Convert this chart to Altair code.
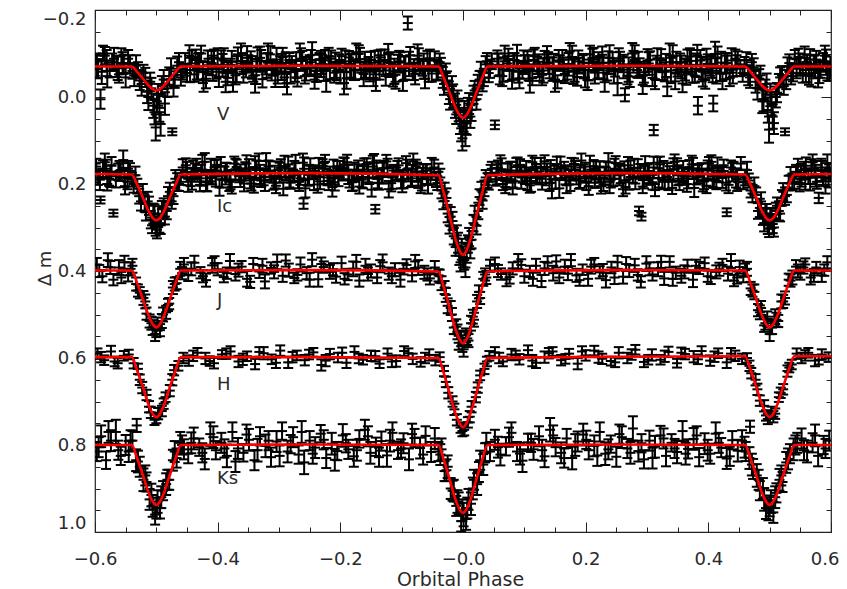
import altair as alt
import pandas as pd

# ---------------- data (phase, delta-mag, error) in thousandths ----------------
BANDS = ["V", "Ic", "J", "H", "Ks"]

V_PTS = [
    (-598, -82, 18), (-591, 5, 22), (-584, -95, 20), (-576, -60, 15), (-569, -88, 25), (-561, -52, 19), (-553, -76, 21),
    (-546, -88, 20), (-539, -60, 18), (-533, -72, 24), (-527, -38, 22), (-521, -55, 19), (-515, -12, 26), (-510, -35, 21),
    (-505, 20, 28), (-501, 70, 30), (-497, -5, 25), (-493, 62, 27), (-488, -40, 22), (-482, -20, 20), (-476, -65, 24),
    (-474, 80, 8), (-470, -40, 19), (-463, -80, 21), (-457, -58, 18),
    (-450, -55, 20), (-442, -92, 15), (-434, -65, 25), (-427, -100, 18), (-419, -42, 22), (-410, -78, 28), (-402, -58, 16),
    (-394, -88, 19), (-387, -35, 24), (-379, -74, 14), (-371, -50, 21), (-362, -96, 27), (-354, -62, 17), (-346, -82, 23),
    (-339, -30, 20), (-331, -90, 26), (-322, -67, 15), (-314, -98, 19), (-306, -52, 29), (-298, -76, 18), (-291, -45, 22),
    (-283, -85, 16), (-274, -60, 25), (-266, -103, 20), (-258, -48, 17), (-250, -72, 24), (-242, -40, 21), (-234, -87, 14),
    (-227, -64, 27), (-219, -94, 19), (-210, -56, 23), (-202, -80, 18), (-194, -32, 26), (-186, -91, 15), (-178, -61, 22),
    (-170, -99, 20), (-162, -53, 28), (-154, -75, 17), (-146, -44, 19), (-138, -83, 24), (-130, -68, 16), (-122, -101, 21),
    (-114, -49, 25), (-106, -79, 18), (-98, -37, 23), (-90, -170, 15), (-82, -59, 20), (-74, -95, 26), (-66, -66, 17),
    (-58, -84, 22), (-51, -54, 19),
    (-46, -85, 20), (-41, -60, 22), (-36, -72, 18), (-31, -30, 25), (-26, -38, 21), (-21, 5, 24), (-16, -2, 27), (-11, 40, 22),
    (-7, 30, 26), (-3, 72, 30), (1, 55, 25), (4, 85, 28), (8, 25, 23), (12, 45, 26), (17, -5, 21), (22, 5, 24), (27, -40, 20),
    (32, -35, 22), (37, -75, 19), (42, -55, 21), (47, -82, 18), (52, 64, 10),
    (56, -88, 19), (64, -48, 23), (72, -77, 17), (80, -40, 21), (88, -95, 25), (97, -60, 18), (105, -83, 22), (113, -43, 16),
    (121, -73, 20), (129, -51, 24), (137, -98, 19), (146, -64, 27), (154, -35, 15), (162, -86, 22), (170, -58, 18),
    (178, -92, 26), (186, -46, 20), (195, -79, 17), (203, -39, 23), (211, -90, 21), (219, -66, 25), (227, -97, 19),
    (235, -54, 16), (244, -81, 22), (252, -32, 28), (260, -75, 18), (264, -5, 15), (268, -49, 20), (276, -100, 24),
    (284, -62, 17), (293, -28, 21), (301, -84, 26), (309, -44, 19), (311, 76, 12), (317, -89, 23), (325, -57, 18),
    (333, -24, 22), (342, -94, 25), (350, -63, 16), (358, -31, 20), (366, -82, 27), (374, -52, 19), (382, -96, 24),
    (383, 20, 20), (391, -41, 17), (399, -76, 22), (407, -55, 21), (408, 15, 18), (415, -91, 25), (423, -37, 19),
    (431, -78, 23), (440, -47, 16), (448, -85, 20),
    (456, -55, 20), (462, -85, 18), (468, -45, 24), (474, -68, 21), (480, -20, 26), (485, -50, 22), (490, 5, 28),
    (495, -30, 24), (499, 75, 30), (503, 15, 27), (507, 60, 25), (512, -10, 22), (517, -45, 23), (523, -25, 20),
    (525, 80, 8), (529, -70, 21), (535, -48, 19), (541, -88, 20),
    (547, -92, 19), (554, -55, 22), (561, -80, 17), (568, -48, 24), (576, -86, 20), (583, -62, 18), (590, -95, 23), (597, -58, 21),
]

V_PTS_B = [
    (-595, -65, 22), (-587, -100, 18), (-580, -48, 26), (-572, -80, 20), (-565, -70, 24), (-557, -95, 17), (-550, -45, 23),
    (-543, -75, 21), (-536, -50, 25), (-530, -62, 18), (-524, -30, 27), (-518, -45, 22), (-513, 0, 30), (-508, -20, 24),
    (-503, 35, 28), (-499, 10, 26), (-495, 25, 32), (-491, -25, 23), (-486, 15, 26), (-479, -48, 20), (-472, -25, 24),
    (-466, -72, 21), (-460, -45, 19),
    (-446, -95, 24), (-438, -52, 17), (-430, -80, 21), (-423, -38, 26), (-415, -73, 15), (-406, -90, 19), (-398, -46, 23),
    (-390, -84, 28), (-383, -62, 18), (-375, -34, 22), (-367, -98, 16), (-358, -58, 25), (-350, -76, 20), (-342, -49, 14),
    (-335, -87, 27), (-327, -41, 19), (-318, -101, 22), (-310, -66, 17), (-302, -55, 24), (-294, -92, 21), (-287, -32, 26),
    (-279, -79, 15), (-270, -44, 20), (-262, -83, 23), (-254, -69, 18), (-246, -97, 29), (-238, -51, 16), (-230, -75, 22),
    (-223, -37, 25), (-215, -88, 19), (-206, -60, 21), (-198, -94, 17), (-190, -43, 24), (-182, -72, 28), (-174, -103, 20),
    (-166, -56, 15), (-158, -64, 23), (-150, -85, 19), (-142, -40, 26), (-134, -91, 18), (-126, -48, 22), (-118, -78, 25),
    (-110, -35, 16), (-102, -82, 21), (-94, -67, 27), (-86, -96, 19), (-78, -53, 24), (-70, -71, 17), (-62, -42, 22),
    (-54, -89, 20),
    (-43, -62, 22), (-38, -80, 20), (-33, -45, 24), (-28, -55, 22), (-23, -10, 26), (-18, -25, 23), (-13, 20, 28), (-9, 10, 25),
    (-5, 55, 30), (-1, 95, 28), (2, 35, 26), (6, 60, 27), (10, 15, 24), (14, 30, 25), (19, -15, 22), (24, -28, 23),
    (29, -60, 21), (34, -45, 20), (39, -82, 19), (44, -65, 21),
    (60, -50, 21), (68, -100, 18), (76, -62, 25), (84, -85, 16), (92, -43, 23), (101, -76, 20), (109, -37, 27), (117, -94, 19),
    (125, -59, 22), (133, -89, 17), (141, -67, 24), (150, -40, 28), (158, -81, 15), (166, -53, 21), (174, -105, 19),
    (182, -61, 26), (190, -72, 18), (199, -45, 23), (207, -98, 20), (215, -56, 25), (223, -78, 16), (231, -34, 22),
    (239, -90, 29), (248, -65, 18), (256, -83, 21), (272, -47, 24), (280, -102, 17), (288, -69, 20), (297, -51, 26),
    (305, -86, 19), (313, -41, 23), (321, -74, 15), (329, -58, 22), (337, -96, 27), (346, -36, 18), (354, -79, 21),
    (362, -63, 25), (370, -93, 19), (378, -49, 16), (387, -84, 24), (395, -39, 20), (403, -71, 22), (411, -99, 28),
    (419, -54, 17), (427, -77, 23), (435, -44, 19), (444, -88, 21), (452, -66, 18),
    (459, -72, 20), (465, -50, 23), (471, -80, 19), (477, -35, 25), (483, -42, 22), (488, 10, 27), (493, -15, 25),
    (497, 30, 29), (501, -5, 26), (505, 45, 28), (510, 0, 24), (515, -30, 23), (520, -50, 21), (527, -40, 22),
    (532, -78, 20), (538, -55, 19), (544, -65, 22),
    (550, -70, 21), (557, -98, 18), (564, -52, 24), (572, -75, 20), (579, -45, 23), (587, -82, 19), (594, -60, 22),
]

V_PTS_C = [
    (-597, -70, 25), (-589, -58, 28), (-581, -84, 24), (-563, -66, 27), (-555, -78, 25),
    (-453, -75, 26), (-445, -62, 28), (-436, -85, 24), (-432, -70, 30), (-424, -57, 25), (-416, -80, 27), (-408, -66, 29),
    (-400, -88, 24), (-392, -73, 26), (-384, -55, 28), (-377, -81, 25), (-369, -64, 30), (-360, -77, 24), (-352, -90, 27),
    (-344, -68, 26), (-337, -59, 29), (-329, -83, 25), (-320, -72, 28), (-312, -62, 24), (-304, -86, 27), (-296, -69, 30),
    (-289, -78, 25), (-281, -57, 26), (-272, -74, 29), (-264, -88, 24), (-256, -65, 27), (-248, -80, 28), (-240, -60, 25),
    (-232, -76, 30), (-225, -84, 24), (-217, -67, 26), (-208, -73, 29), (-200, -58, 27), (-192, -82, 25), (-184, -70, 28),
    (-176, -63, 24), (-168, -87, 26), (-160, -74, 30), (-152, -61, 25), (-144, -79, 27), (-136, -68, 28), (-128, -85, 24),
    (-120, -72, 26), (-112, -59, 29), (-104, -81, 25), (-96, -66, 27), (-88, -76, 28), (-80, -63, 24), (-72, -86, 26),
    (-64, -71, 29), (-56, -60, 25),
    (58, -74, 26), (66, -63, 28), (74, -87, 24), (82, -70, 30), (90, -58, 25), (99, -80, 27), (107, -67, 29), (115, -85, 24),
    (123, -72, 26), (131, -61, 28), (139, -78, 25), (148, -69, 30), (156, -84, 24), (164, -64, 27), (172, -75, 26),
    (180, -59, 29), (188, -82, 25), (197, -71, 28), (205, -62, 24), (213, -86, 27), (221, -73, 30), (229, -66, 25),
    (237, -79, 26), (246, -60, 29), (254, -88, 24), (262, -70, 27), (270, -63, 28), (278, -81, 25), (286, -74, 30),
    (295, -57, 24), (303, -77, 26), (315, -67, 28), (323, -85, 25), (331, -72, 27), (339, -61, 29), (348, -80, 24),
    (356, -69, 26), (364, -58, 30), (372, -83, 25), (380, -73, 27), (389, -64, 28), (397, -87, 24), (405, -70, 26),
    (413, -60, 29), (421, -79, 25), (429, -68, 27), (438, -84, 28), (446, -72, 24),
    (549, -75, 25), (559, -62, 28), (566, -86, 24), (574, -70, 27), (581, -58, 26), (592, -80, 29), (599, -68, 25),
]

IC_PTS = [
    (-598, 160, 18), (-591, 237, 8), (-584, 150, 20), (-577, 188, 16), (-570, 267, 8), (-562, 172, 19), (-554, 145, 22), (-547, 195, 17),
    (-546, 165, 18), (-540, 190, 16), (-534, 180, 20), (-528, 228, 17), (-522, 222, 22), (-517, 265, 19), (-512, 250, 21),
    (-507, 295, 18), (-503, 270, 23), (-499, 305, 20), (-495, 290, 22), (-491, 258, 19), (-486, 275, 18), (-481, 228, 21),
    (-475, 240, 17), (-469, 188, 20), (-463, 200, 16), (-457, 162, 19),
    (-452, 157, 16), (-444, 191, 14), (-437, 171, 18), (-429, 202, 15), (-421, 149, 20), (-413, 186, 13), (-405, 162, 17),
    (-397, 208, 19), (-389, 175, 15), (-381, 195, 21), (-373, 153, 16), (-365, 182, 14), (-357, 199, 18), (-349, 165, 22),
    (-341, 205, 15), (-333, 147, 17), (-325, 184, 19), (-317, 160, 14), (-309, 197, 16), (-301, 168, 20), (-293, 211, 15),
    (-285, 155, 18), (-277, 180, 13), (-269, 193, 17), (-261, 151, 21), (-260, 245, 12), (-253, 188, 16), (-245, 173, 14),
    (-237, 201, 19), (-229, 158, 15), (-221, 185, 18), (-213, 207, 22), (-205, 163, 16), (-197, 178, 14), (-189, 150, 17),
    (-181, 196, 20), (-173, 170, 15), (-165, 190, 18), (-157, 154, 13), (-149, 213, 16), (-143, 258, 10), (-141, 167, 21),
    (-133, 181, 17), (-125, 148, 15), (-117, 198, 19), (-109, 176, 14), (-101, 192, 18), (-93, 152, 16), (-85, 187, 20),
    (-77, 159, 15), (-69, 204, 17), (-61, 169, 14), (-53, 183, 19),
    (-47, 162, 18), (-42, 198, 16), (-37, 185, 20), (-32, 240, 18), (-27, 232, 22), (-22, 295, 19), (-17, 285, 21),
    (-12, 345, 20), (-8, 335, 23), (-4, 380, 21), (0, 368, 24), (4, 392, 22), (8, 338, 20), (12, 350, 21), (17, 290, 19),
    (22, 296, 20), (27, 230, 18), (32, 238, 19), (37, 185, 17), (42, 195, 18), (47, 165, 16),
    (53, 189, 15), (61, 152, 18), (69, 207, 14), (77, 169, 20), (85, 194, 16), (93, 156, 13), (101, 181, 19), (109, 203, 17),
    (117, 161, 21), (125, 186, 15), (133, 148, 14), (141, 198, 18), (149, 174, 16), (157, 210, 22), (165, 164, 15),
    (173, 184, 17), (181, 154, 13), (189, 192, 19), (197, 171, 16), (205, 205, 20), (213, 159, 14), (221, 179, 18),
    (229, 201, 15), (237, 150, 21), (245, 188, 17), (253, 167, 13), (261, 212, 16), (269, 157, 19), (277, 183, 14),
    (285, 163, 20), (287, 262, 10), (291, 275, 9), (293, 206, 15), (301, 173, 18), (309, 196, 17), (317, 151, 13),
    (325, 190, 21), (333, 168, 16), (341, 209, 14), (349, 160, 19), (357, 178, 15), (365, 200, 18), (373, 155, 20),
    (381, 185, 16), (389, 165, 13), (397, 204, 17), (405, 149, 15), (413, 193, 19), (421, 172, 14), (429, 197, 18),
    (430, 265, 9), (437, 162, 16), (445, 187, 21), (453, 153, 15),
    (457, 195, 17), (463, 168, 19), (469, 215, 16), (475, 205, 20), (481, 262, 18), (486, 240, 21), (491, 290, 19),
    (495, 268, 22), (499, 302, 20), (503, 278, 23), (507, 300, 21), (512, 250, 19), (517, 268, 18), (522, 218, 20),
    (528, 225, 17), (534, 180, 19), (540, 195, 16), (546, 160, 18),
    (552, 190, 16), (559, 158, 19), (566, 200, 15), (573, 165, 18), (580, 232, 12), (587, 185, 17), (594, 152, 20), (599, 178, 16),
]

IC_PTS_B = [
    (-595, 185, 17), (-587, 165, 19), (-580, 200, 15), (-573, 158, 20), (-566, 190, 18), (-558, 168, 16), (-551, 205, 19),
    (-543, 170, 18), (-537, 200, 20), (-531, 205, 17), (-525, 240, 21), (-519, 245, 19), (-514, 240, 22), (-509, 282, 20),
    (-505, 268, 23), (-501, 298, 21), (-497, 275, 24), (-493, 295, 20), (-488, 255, 22), (-483, 262, 19), (-478, 218, 21),
    (-472, 228, 18), (-466, 195, 20), (-460, 185, 17),
    (-448, 203, 15), (-440, 165, 19), (-433, 181, 14), (-425, 150, 17), (-417, 196, 21), (-409, 185, 16), (-401, 156, 13),
    (-393, 190, 18), (-385, 172, 20), (-377, 207, 15), (-369, 161, 17), (-361, 178, 14), (-353, 153, 19), (-345, 199, 16),
    (-337, 168, 22), (-329, 192, 15), (-321, 147, 18), (-313, 183, 13), (-305, 204, 17), (-297, 163, 20), (-289, 175, 16),
    (-281, 197, 14), (-273, 152, 19), (-265, 187, 15), (-257, 210, 21), (-249, 158, 17), (-241, 170, 13), (-233, 194, 18),
    (-225, 149, 16), (-217, 180, 20), (-209, 201, 14), (-201, 166, 19), (-193, 155, 15), (-185, 191, 17), (-177, 173, 22),
    (-169, 206, 16), (-161, 159, 18), (-153, 186, 14), (-145, 151, 20), (-137, 198, 15), (-129, 164, 17), (-121, 212, 19),
    (-113, 169, 13), (-105, 157, 16), (-97, 189, 21), (-89, 179, 15), (-81, 148, 18), (-73, 195, 14), (-65, 171, 17),
    (-57, 202, 20),
    (-44, 190, 17), (-40, 172, 19), (-35, 215, 18), (-30, 218, 21), (-25, 268, 20), (-20, 275, 22), (-15, 320, 19),
    (-10, 318, 23), (-6, 365, 21), (-2, 350, 24), (2, 375, 22), (6, 358, 23), (10, 322, 21), (14, 328, 20), (19, 272, 22),
    (25, 262, 19), (30, 215, 20), (35, 210, 18), (40, 192, 17), (45, 175, 19),
    (57, 163, 17), (65, 200, 14), (73, 173, 20), (81, 208, 16), (89, 157, 18), (97, 184, 13), (105, 193, 21), (113, 150, 15),
    (121, 179, 19), (129, 197, 16), (137, 167, 14), (145, 211, 22), (153, 154, 17), (161, 176, 15), (169, 203, 18),
    (177, 160, 20), (185, 188, 13), (193, 146, 16), (201, 195, 19), (209, 182, 15), (217, 169, 21), (225, 205, 17),
    (233, 162, 14), (241, 190, 18), (249, 152, 16), (257, 178, 20), (265, 207, 15), (273, 165, 19), (281, 199, 13),
    (289, 171, 17), (297, 158, 22), (305, 186, 16), (313, 214, 14), (321, 155, 18), (329, 192, 20), (337, 174, 15),
    (345, 149, 17), (353, 201, 13), (361, 183, 19), (369, 161, 16), (377, 209, 21), (385, 168, 14), (393, 194, 18),
    (401, 153, 15), (409, 189, 20), (417, 180, 16), (425, 157, 13), (433, 202, 19), (441, 166, 17), (449, 196, 15),
    (460, 185, 18), (466, 192, 16), (472, 222, 20), (478, 225, 17), (484, 255, 21), (489, 275, 19), (493, 268, 22),
    (497, 295, 20), (501, 280, 23), (505, 292, 21), (510, 262, 19), (515, 262, 22), (520, 232, 18), (525, 228, 20),
    (531, 198, 17), (537, 195, 19), (543, 172, 16),
    (549, 200, 17), (556, 168, 19), (563, 185, 15), (570, 150, 18), (577, 195, 16), (584, 162, 20), (591, 205, 17), (597, 170, 15),
]

IC_PTS_C = [
    (-599, 175, 22), (-592, 190, 24), (-582, 165, 21), (-575, 182, 25), (-560, 170, 23), (-552, 185, 22),
    (-450, 172, 23), (-442, 188, 25), (-435, 163, 21), (-427, 180, 24), (-419, 194, 22), (-411, 168, 26), (-403, 183, 23),
    (-395, 159, 21), (-387, 176, 25), (-379, 190, 22), (-371, 166, 24), (-363, 181, 26), (-355, 171, 21), (-347, 187, 23),
    (-339, 161, 25), (-331, 178, 22), (-323, 192, 24), (-315, 169, 21), (-307, 184, 26), (-299, 174, 23), (-291, 160, 25),
    (-283, 186, 22), (-275, 171, 24), (-267, 195, 21), (-259, 165, 26), (-251, 179, 23), (-243, 189, 25), (-235, 162, 22),
    (-227, 176, 24), (-219, 193, 21), (-211, 170, 26), (-203, 182, 23), (-195, 164, 25), (-187, 178, 22), (-179, 191, 24),
    (-171, 167, 21), (-163, 184, 26), (-155, 173, 23), (-147, 160, 25), (-139, 188, 22), (-131, 175, 24), (-123, 163, 21),
    (-115, 185, 26), (-107, 170, 23), (-99, 194, 25), (-91, 166, 22), (-83, 180, 24), (-75, 172, 21), (-67, 189, 26),
    (-59, 177, 23), (-51, 165, 25),
    (55, 178, 23), (63, 166, 25), (71, 190, 22), (79, 173, 24), (87, 161, 21), (95, 185, 26), (103, 170, 23), (111, 193, 25),
    (119, 176, 22), (127, 164, 24), (135, 182, 21), (143, 171, 26), (151, 188, 23), (159, 162, 25), (167, 179, 22),
    (175, 192, 24), (183, 168, 21), (191, 183, 26), (199, 174, 23), (207, 160, 25), (215, 187, 22), (223, 172, 24),
    (231, 181, 21), (239, 195, 26), (247, 165, 23), (255, 178, 25), (263, 170, 22), (271, 189, 24), (279, 163, 21),
    (295, 184, 26), (303, 175, 23), (311, 162, 25), (319, 186, 22), (327, 171, 24), (335, 193, 21), (343, 167, 26),
    (351, 180, 23), (359, 172, 25), (367, 188, 22), (375, 164, 24), (383, 177, 21), (391, 191, 26), (399, 169, 23),
    (407, 182, 25), (415, 161, 22), (423, 185, 24), (439, 173, 21), (447, 190, 26),
    (551, 176, 22), (558, 189, 24), (568, 164, 21), (575, 181, 25), (585, 170, 23), (596, 186, 22),
]

J_PTS = [
    (-597, 385, 15), (-588, 412, 14), (-579, 375, 16), (-570, 420, 13), (-561, 392, 17), (-552, 380, 15),
    (-546, 410, 14), (-539, 388, 16), (-533, 430, 15), (-527, 450, 13), (-521, 462, 16), (-516, 498, 14), (-511, 515, 15),
    (-506, 530, 17), (-502, 545, 16), (-498, 522, 15), (-494, 536, 14), (-489, 500, 16), (-484, 495, 15), (-479, 475, 13),
    (-473, 438, 15), (-467, 428, 14), (-461, 395, 16), (-455, 385, 15),
    (-448, 409, 14), (-438, 381, 16), (-428, 404, 13), (-419, 421, 15), (-409, 387, 17), (-400, 396, 14), (-390, 414, 12),
    (-380, 377, 16), (-371, 407, 15), (-361, 390, 13), (-352, 418, 18), (-342, 384, 14), (-332, 401, 15), (-323, 424, 16),
    (-313, 393, 13), (-303, 379, 17), (-294, 411, 14), (-284, 398, 15), (-275, 416, 12), (-265, 385, 16), (-255, 405, 14),
    (-246, 374, 15), (-236, 419, 17), (-227, 391, 13), (-217, 402, 16), (-207, 413, 14), (-198, 382, 15), (-188, 408, 13),
    (-179, 395, 17), (-169, 422, 14), (-159, 388, 16), (-150, 400, 15), (-140, 415, 13), (-131, 380, 18), (-121, 406, 14),
    (-111, 397, 15), (-102, 420, 16), (-92, 386, 13), (-83, 410, 14), (-73, 392, 17), (-63, 403, 15), (-54, 417, 14),
    (-46, 392, 15), (-40, 410, 14), (-35, 428, 16), (-30, 438, 15), (-25, 480, 17), (-20, 485, 16), (-15, 530, 15),
    (-11, 528, 17), (-7, 565, 16), (-3, 555, 18), (1, 580, 17), (5, 548, 16), (9, 560, 15), (13, 520, 17), (18, 512, 16),
    (23, 470, 15), (28, 462, 14), (33, 418, 16), (38, 415, 15), (44, 388, 14),
    (52, 384, 15), (62, 407, 13), (71, 419, 16), (81, 394, 14), (90, 378, 17), (100, 412, 15), (109, 401, 13), (119, 388, 16),
    (128, 423, 14), (138, 381, 15), (147, 405, 17), (157, 415, 13), (166, 390, 16), (176, 375, 14), (185, 410, 15),
    (195, 397, 12), (204, 418, 16), (214, 385, 15), (223, 403, 14), (233, 421, 17), (242, 392, 13), (252, 380, 15),
    (261, 413, 16), (271, 400, 14), (280, 387, 15), (290, 425, 13), (299, 383, 17), (309, 408, 14), (318, 396, 16),
    (328, 417, 15), (337, 379, 13), (347, 404, 14), (356, 411, 16), (366, 389, 15), (375, 420, 17), (385, 393, 14),
    (394, 382, 13), (404, 414, 16), (413, 402, 15), (423, 386, 14), (432, 406, 16), (442, 422, 13), (451, 391, 15),
    (457, 412, 14), (463, 395, 16), (469, 440, 15), (475, 448, 17), (481, 490, 14), (486, 485, 16), (491, 525, 15),
    (496, 510, 17), (500, 545, 16), (504, 530, 15), (509, 505, 17), (514, 515, 14), (519, 470, 16), (525, 462, 15),
    (531, 420, 14), (537, 415, 16), (543, 390, 15),
    (550, 405, 15), (558, 385, 14), (567, 415, 16), (576, 392, 13), (585, 410, 15), (594, 380, 14),
]

J_PTS_B = [
    (-593, 400, 14), (-575, 392, 15), (-557, 415, 13),
    (-542, 395, 15), (-530, 445, 14), (-518, 470, 16), (-508, 520, 15), (-500, 535, 17), (-491, 515, 16), (-481, 478, 14),
    (-470, 430, 15), (-458, 405, 14),
    (-443, 395, 15), (-424, 412, 14), (-405, 382, 16), (-385, 405, 13), (-366, 398, 15), (-347, 425, 14), (-327, 388, 16),
    (-308, 402, 15), (-289, 376, 14), (-270, 409, 13), (-250, 420, 16), (-231, 384, 15), (-212, 396, 14), (-193, 418, 13),
    (-174, 379, 16), (-155, 407, 15), (-135, 389, 14), (-116, 412, 16), (-97, 395, 13), (-78, 378, 15), (-58, 408, 14),
    (-38, 412, 15), (-28, 455, 16), (-18, 500, 15), (-9, 540, 17), (-1, 570, 16), (7, 555, 15), (16, 505, 16), (26, 448, 15),
    (36, 408, 14),
    (57, 400, 14), (76, 414, 15), (95, 386, 13), (114, 418, 16), (133, 394, 15), (152, 378, 14), (171, 406, 15), (190, 421, 13),
    (209, 390, 16), (228, 398, 14), (247, 415, 15), (266, 384, 16), (285, 409, 13), (304, 395, 15), (323, 379, 14),
    (342, 418, 16), (361, 402, 15), (380, 388, 14), (399, 412, 13), (418, 396, 15), (437, 377, 16), (447, 415, 14),
    (460, 398, 15), (472, 445, 14), (484, 495, 16), (493, 520, 15), (502, 528, 17), (511, 512, 16), (522, 470, 15),
    (534, 422, 14), (546, 400, 15),
    (555, 392, 14), (572, 410, 15), (589, 398, 13),
]

H_PTS = [
    (-596, 590, 12), (-585, 605, 11), (-574, 585, 13), (-563, 612, 12), (-553, 595, 11),
    (-545, 592, 11), (-537, 612, 12), (-530, 625, 12), (-523, 668, 13), (-516, 685, 12), (-509, 725, 13), (-503, 742, 12),
    (-497, 728, 13), (-491, 722, 12), (-485, 690, 11), (-478, 675, 13), (-471, 628, 12), (-464, 618, 11), (-456, 600, 12),
    (-447, 606, 12), (-433, 588, 11), (-420, 601, 13), (-406, 612, 12), (-393, 592, 10), (-379, 585, 12), (-366, 608, 13),
    (-352, 596, 11), (-339, 614, 12), (-325, 589, 14), (-312, 603, 11), (-298, 583, 12), (-285, 610, 13), (-271, 594, 11),
    (-258, 605, 12), (-244, 587, 10), (-231, 616, 13), (-217, 591, 12), (-204, 599, 11), (-190, 611, 12), (-177, 586, 13),
    (-163, 604, 11), (-150, 595, 12), (-136, 613, 10), (-123, 590, 12), (-109, 607, 13), (-96, 584, 11), (-82, 602, 12),
    (-69, 609, 11), (-55, 593, 13),
    (-45, 605, 12), (-38, 598, 11), (-31, 630, 12), (-24, 680, 13), (-17, 700, 12), (-10, 742, 13), (-4, 760, 12),
    (2, 765, 13), (8, 748, 12), (14, 712, 13), (21, 690, 12), (28, 640, 11), (35, 625, 12), (43, 595, 11),
    (52, 587, 12), (65, 608, 11), (79, 592, 13), (92, 603, 12), (106, 582, 11), (119, 611, 12), (133, 598, 13), (146, 585, 10),
    (160, 605, 12), (173, 590, 11), (187, 613, 13), (200, 594, 12), (214, 583, 11), (227, 602, 12), (241, 607, 10),
    (254, 588, 13), (268, 600, 12), (281, 581, 11), (295, 609, 12), (308, 593, 13), (322, 604, 11), (335, 586, 12),
    (349, 612, 10), (362, 591, 12), (376, 597, 13), (389, 584, 11), (403, 606, 12), (416, 589, 11), (430, 610, 13), (444, 595, 12),
    (455, 602, 12), (463, 600, 11), (470, 635, 12), (477, 650, 13), (484, 698, 12), (491, 710, 13), (497, 740, 12),
    (503, 725, 13), (509, 728, 12), (515, 690, 11), (522, 672, 12), (529, 630, 13), (536, 615, 11), (544, 590, 12),
    (552, 600, 12), (563, 588, 11), (574, 606, 13), (585, 592, 12), (596, 598, 11),
]

H_PTS_B = [
    (-590, 598, 12), (-568, 608, 11), (-527, 650, 12), (-512, 712, 13), (-500, 738, 12), (-488, 705, 12), (-474, 650, 13),
    (-440, 595, 12), (-413, 607, 11), (-386, 590, 12), (-359, 603, 13), (-332, 586, 11), (-305, 611, 12), (-278, 598, 12),
    (-251, 592, 11), (-224, 606, 13), (-197, 588, 12), (-170, 601, 11), (-143, 596, 12), (-116, 608, 13), (-89, 589, 11),
    (-62, 600, 12), (-28, 655, 12), (-14, 718, 13), (-1, 768, 12), (11, 735, 13), (24, 668, 12), (39, 608, 11),
    (59, 600, 12), (86, 594, 11), (113, 606, 13), (140, 589, 12), (167, 602, 11), (194, 585, 12), (221, 598, 13),
    (248, 610, 11), (275, 592, 12), (302, 604, 11), (329, 596, 13), (356, 588, 12), (383, 603, 11), (410, 597, 12),
    (437, 590, 13), (467, 618, 12), (480, 672, 13), (494, 732, 12), (506, 735, 13), (518, 680, 12), (532, 622, 11),
    (558, 594, 12), (580, 604, 11),
]

KS_PTS = [
    (-597, 815, 22), (-590, 780, 25), (-582, 835, 20), (-574, 790, 24), (-566, 770, 28), (-558, 825, 21), (-550, 800, 23),
    (-545, 815, 24), (-539, 790, 22), (-533, 835, 25), (-532, 755, 15), (-527, 850, 23), (-521, 880, 26), (-516, 885, 22),
    (-511, 925, 24), (-506, 940, 25), (-502, 960, 23), (-498, 930, 26), (-494, 945, 24), (-489, 905, 22), (-484, 890, 25),
    (-479, 880, 23), (-473, 835, 24), (-467, 830, 22), (-461, 795, 25), (-455, 810, 23),
    (-448, 820, 22), (-439, 785, 25), (-430, 805, 20), (-421, 832, 24), (-412, 775, 27), (-403, 812, 21), (-394, 795, 23),
    (-385, 825, 26), (-376, 770, 22), (-367, 808, 24), (-358, 818, 20), (-349, 788, 25), (-340, 835, 23), (-331, 780, 21),
    (-322, 802, 26), (-313, 828, 22), (-304, 792, 24), (-295, 768, 20), (-286, 815, 25), (-277, 782, 23), (-268, 822, 21),
    (-259, 840, 27), (-250, 790, 22), (-241, 806, 24), (-232, 774, 20), (-223, 830, 23), (-214, 797, 25), (-205, 814, 21),
    (-196, 778, 26), (-187, 810, 22), (-178, 826, 24), (-169, 786, 20), (-160, 765, 23), (-151, 818, 25), (-142, 804, 21),
    (-133, 791, 22), (-124, 824, 26), (-115, 772, 24), (-106, 812, 20), (-97, 796, 23), (-88, 833, 25), (-79, 784, 21),
    (-70, 807, 24), (-61, 779, 22), (-52, 816, 23),
    (-46, 785, 24), (-40, 815, 22), (-35, 810, 25), (-30, 860, 23), (-25, 850, 26), (-20, 900, 24), (-15, 905, 25),
    (-11, 940, 23), (-7, 935, 26), (-3, 975, 24), (1, 960, 27), (5, 970, 25), (9, 925, 24), (13, 935, 26), (18, 880, 23),
    (23, 890, 25), (28, 835, 22), (33, 845, 24), (38, 795, 23), (44, 815, 22),
    (52, 788, 23), (61, 822, 25), (70, 803, 21), (79, 772, 24), (88, 815, 22), (97, 836, 26), (106, 794, 20), (115, 810, 24),
    (124, 780, 23), (133, 826, 25), (142, 765, 27), (151, 805, 21), (160, 818, 24), (169, 785, 22), (178, 830, 26),
    (187, 792, 23), (196, 776, 25), (205, 812, 21), (214, 802, 24), (223, 770, 22), (232, 820, 26), (241, 798, 20),
    (250, 827, 23), (259, 782, 25), (268, 808, 22), (277, 762, 28), (286, 814, 24), (295, 833, 21), (304, 790, 23),
    (313, 804, 25), (322, 778, 22), (331, 825, 24), (340, 795, 20), (349, 816, 26), (358, 768, 23), (367, 809, 22),
    (376, 786, 25), (385, 828, 21), (394, 797, 24), (403, 820, 23), (412, 774, 26), (421, 806, 22), (430, 831, 24),
    (439, 789, 21), (448, 813, 25),
    (455, 790, 24), (461, 815, 22), (467, 830, 25), (468, 758, 14), (473, 855, 23), (479, 870, 26), (484, 905, 22),
    (489, 900, 24), (494, 945, 25), (498, 950, 23), (502, 930, 26), (506, 955, 24), (511, 910, 22), (516, 880, 25),
    (521, 885, 23), (527, 840, 24), (533, 820, 22), (539, 810, 25), (545, 795, 23),
    (552, 785, 23), (561, 815, 25), (570, 795, 22), (579, 825, 24), (588, 800, 21), (597, 790, 23),
]

KS_PTS_B = [
    (-594, 805, 23), (-578, 770, 25), (-562, 812, 22),
    (-542, 790, 24), (-530, 838, 25), (-518, 870, 23), (-508, 915, 26), (-500, 945, 24), (-492, 920, 25), (-482, 880, 23),
    (-470, 815, 24), (-458, 800, 22),
    (-443, 795, 24), (-425, 818, 22), (-407, 782, 25), (-389, 808, 21), (-371, 838, 24), (-353, 776, 23), (-335, 812, 26),
    (-317, 790, 22), (-299, 825, 24), (-281, 798, 21), (-263, 770, 25), (-245, 820, 23), (-227, 788, 22), (-209, 834, 25),
    (-191, 796, 21), (-173, 812, 24), (-155, 780, 23), (-137, 828, 22), (-119, 790, 25), (-101, 808, 21), (-83, 775, 24),
    (-65, 822, 23),
    (-37, 822, 24), (-27, 858, 25), (-17, 905, 23), (-9, 930, 26), (-1, 950, 25), (7, 945, 24), (16, 900, 25), (26, 862, 23),
    (36, 818, 22),
    (57, 805, 24), (75, 782, 22), (93, 820, 25), (111, 795, 21), (129, 812, 24), (147, 778, 23), (165, 830, 22), (183, 800, 25),
    (201, 788, 21), (219, 824, 24), (237, 810, 23), (255, 775, 22), (273, 818, 25), (291, 796, 21), (309, 830, 24),
    (327, 785, 23), (345, 808, 22), (363, 820, 25), (381, 778, 21), (399, 812, 24), (417, 795, 23), (435, 826, 22),
    (459, 805, 24), (471, 845, 25), (482, 880, 23), (491, 925, 26), (500, 940, 24), (509, 920, 25), (519, 870, 23),
    (530, 832, 24), (542, 800, 22),
    (556, 812, 23), (574, 778, 25), (591, 808, 22),
]

# ---------------- model light curves (red) ----------------
MODEL_PHASE = [-0.6, -0.54, -0.532, -0.522, -0.513, -0.506, -0.5, -0.494, -0.487, -0.478, -0.468, -0.46,
               -0.25, -0.04, -0.032, -0.022, -0.013, -0.006, 0.0, 0.006, 0.013, 0.022, 0.032, 0.04,
               0.25, 0.46, 0.468, 0.478, 0.487, 0.494, 0.5, 0.506, 0.513, 0.522, 0.532, 0.54, 0.6]
V_MODEL = [-0.070, -0.070, -0.059, -0.042, -0.027, -0.018, -0.015, -0.018, -0.027, -0.042, -0.059, -0.070,
           -0.072, -0.070, -0.046, -0.011, 0.022, 0.041, 0.048, 0.041, 0.022, -0.011, -0.046, -0.070,
           -0.072, -0.070, -0.059, -0.042, -0.027, -0.018, -0.015, -0.018, -0.027, -0.042, -0.059, -0.070, -0.070]
IC_MODEL = [0.177, 0.178, 0.199, 0.231, 0.261, 0.278, 0.284, 0.278, 0.261, 0.231, 0.199, 0.178,
            0.175, 0.180, 0.217, 0.272, 0.323, 0.352, 0.363, 0.352, 0.323, 0.272, 0.217, 0.180,
            0.175, 0.178, 0.199, 0.231, 0.261, 0.278, 0.284, 0.278, 0.261, 0.231, 0.199, 0.178, 0.177]
J_MODEL = [0.399, 0.399, 0.425, 0.465, 0.501, 0.522, 0.530, 0.522, 0.501, 0.465, 0.425, 0.399,
           0.398, 0.401, 0.434, 0.484, 0.530, 0.556, 0.566, 0.556, 0.530, 0.484, 0.434, 0.401,
           0.398, 0.399, 0.425, 0.465, 0.501, 0.522, 0.530, 0.522, 0.501, 0.465, 0.425, 0.399, 0.399]
H_MODEL = [0.598, 0.598, 0.626, 0.667, 0.706, 0.728, 0.736, 0.728, 0.706, 0.667, 0.626, 0.598,
           0.598, 0.600, 0.632, 0.680, 0.724, 0.749, 0.759, 0.749, 0.724, 0.680, 0.632, 0.600,
           0.597, 0.596, 0.624, 0.666, 0.705, 0.728, 0.736, 0.728, 0.705, 0.666, 0.624, 0.596, 0.596]
KS_MODEL = [0.800, 0.800, 0.828, 0.869, 0.908, 0.930, 0.938, 0.930, 0.908, 0.869, 0.828, 0.800,
            0.799, 0.800, 0.831, 0.878, 0.922, 0.947, 0.956, 0.947, 0.922, 0.878, 0.831, 0.800,
            0.799, 0.800, 0.828, 0.869, 0.908, 0.930, 0.938, 0.930, 0.908, 0.869, 0.828, 0.800, 0.800]

LABEL_PHASE = [-0.401, -0.401, -0.401, -0.401, -0.401]
LABEL_MAG = [0.041, 0.252, 0.469, 0.662, 0.879]

X_MAJOR = [-0.6, -0.4, -0.2, 0.0, 0.2, 0.4, 0.6]
X_MINOR = [-0.55, -0.5, -0.45, -0.35, -0.3, -0.25, -0.15, -0.1, -0.05, 0.05, 0.1, 0.15,
           0.25, 0.3, 0.35, 0.45, 0.5, 0.55]
Y_MAJOR = [-0.2, 0.0, 0.2, 0.4, 0.6, 0.8, 1.0]
Y_MINOR = [-0.15, -0.1, -0.05, 0.05, 0.1, 0.15, 0.25, 0.3, 0.35, 0.45, 0.5, 0.55,
           0.65, 0.7, 0.75, 0.85, 0.9, 0.95]

# ---------------- tables ----------------
rows = []
band_sets = [("V", V_PTS), ("V", V_PTS_B), ("V", V_PTS_C),
             ("Ic", IC_PTS), ("Ic", IC_PTS_B), ("Ic", IC_PTS_C),
             ("J", J_PTS), ("J", J_PTS_B), ("H", H_PTS), ("H", H_PTS_B),
             ("Ks", KS_PTS), ("Ks", KS_PTS_B)]
for band, pts in band_sets:
    for p, m, e in pts:
        rows.append({"band": band, "phase": p / 1000.0, "mag": m / 1000.0,
                     "lo": (m - e) / 1000.0, "hi": (m + e) / 1000.0})
pts_df = pd.DataFrame(rows)

mrows = []
for band, vals in zip(BANDS, [V_MODEL, IC_MODEL, J_MODEL, H_MODEL, KS_MODEL]):
    for p, v in zip(MODEL_PHASE, vals):
        mrows.append({"band": band, "phase": p, "mag": v})
model_df = pd.DataFrame(mrows)

lab_df = pd.DataFrame({"band": BANDS, "phase": LABEL_PHASE, "mag": LABEL_MAG})

# ---------------- chart ----------------
W, H = 736, 522
FONT = "DejaVu Sans"
TXT = "#2a2a2a"
LAST = "datum.value > 0.59"
xs = alt.Scale(domain=[-0.6, 0.6], nice=False, zero=False)
ys = alt.Scale(domain=[-0.2, 1.0], nice=False, zero=False, reverse=True)


def tick_axis(orient, offset, values, size):
    return alt.Axis(orient=orient, offset=offset, values=values, labels=False, domain=False,
                    grid=False, ticks=True, tickSize=size, tickColor="#222222", tickWidth=1,
                    title=None)


x_lab = alt.Axis(orient="bottom", values=X_MAJOR, format=".1f",
                 labelExpr="datum.value == 0 ? '\u22120.0' : datum.label",
                 labelAlign={"condition": {"test": LAST, "value": "right"}, "value": "center"},
                 labelOffset={"condition": {"test": LAST, "value": 8}, "value": 0},
                 ticks=False, domain=False, grid=False, labelFont=FONT, labelFontSize=18,
                 labelColor=TXT, labelPadding=18, labelFlush=False, labelOverlap=False,
                 title="Orbital Phase", titleFont=FONT, titleFontSize=19, titleFontWeight="normal",
                 titleColor=TXT, titleX=W / 2 - 3, titleY=53, titleAlign="center",
                 titleBaseline="alphabetic")
y_lab = alt.Axis(orient="left", values=Y_MAJOR, format=".1f", ticks=False, domain=False,
                 grid=False, labelFont=FONT, labelFontSize=18, labelColor=TXT, labelPadding=9,
                 labelFlush=True, labelOverlap=False,
                 title="\u0394 m", titleFont=FONT, titleFontSize=18, titleFontWeight="normal",
                 titleColor=TXT, titleX=-50, titleY=H / 2 - 3, titleAngle=-90, titleAlign="center",
                 titleBaseline="middle")

base = alt.Chart(pts_df)
SW = 2.0
CAP = 10

rules = base.mark_rule(color="black", strokeWidth=SW, clip=True).encode(
    x=alt.X("phase:Q", scale=xs, axis=x_lab),
    y=alt.Y("lo:Q", scale=ys, axis=y_lab),
    y2="hi:Q",
)
tick_lo = base.mark_tick(orient="horizontal", size=CAP, thickness=SW, color="black",
                         opacity=1, clip=True).encode(
    x=alt.X("phase:Q", scale=xs, axis=tick_axis("top", -H, X_MAJOR, 10)),
    y=alt.Y("lo:Q", scale=ys, axis=tick_axis("right", -W, Y_MAJOR, 10)),
)
tick_hi = base.mark_tick(orient="horizontal", size=CAP, thickness=SW, color="black",
                         opacity=1, clip=True).encode(
    x=alt.X("phase:Q", scale=xs, axis=tick_axis("bottom", -H, X_MAJOR, 10)),
    y=alt.Y("hi:Q", scale=ys, axis=tick_axis("left", -W, Y_MAJOR, 10)),
)
tick_mid = base.mark_tick(orient="horizontal", size=CAP, thickness=SW, color="black",
                          opacity=1, clip=True).encode(
    x=alt.X("phase:Q", scale=xs, axis=tick_axis("top", -H, X_MINOR, 5)),
    y=alt.Y("mag:Q", scale=ys, axis=tick_axis("right", -W, Y_MINOR, 5)),
)
model = alt.Chart(model_df).mark_line(color="#ff0000", strokeWidth=2.6, interpolate="monotone",
                                      clip=True).encode(
    x=alt.X("phase:Q", scale=xs, axis=tick_axis("bottom", -H, X_MINOR, 5)),
    y=alt.Y("mag:Q", scale=ys, axis=tick_axis("left", -W, Y_MINOR, 5)),
    detail="band:N",
)
labels = alt.Chart(lab_df).mark_text(align="left", baseline="middle", font=FONT, fontSize=18,
                                     color=TXT).encode(
    x=alt.X("phase:Q", scale=xs, axis=None),
    y=alt.Y("mag:Q", scale=ys, axis=None),
    text="band:N",
)

chart = (
    alt.layer(rules, tick_lo, tick_hi, tick_mid, model, labels)
    .resolve_axis(x="independent", y="independent")
    .properties(width=W, height=H, background="white",
                autosize=alt.AutoSizeParams(type="none"),
                padding={"left": 87, "top": 2, "right": 8, "bottom": 57})
    .configure_view(stroke="#222222", strokeWidth=1.2)
)

chart.save("out.html", embed_options={"renderer": "svg", "actions": False})
